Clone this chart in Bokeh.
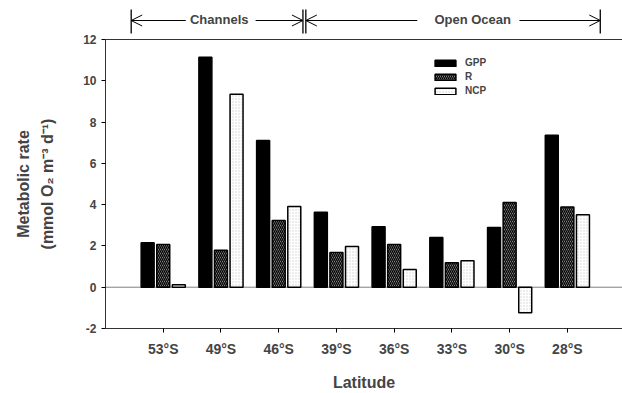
import numpy as np
from bokeh.plotting import figure
from bokeh.layouts import column
from bokeh.models import (ColumnDataSource, Range1d, FixedTicker, Span, LinearAxis,
                          Arrow, OpenHead, Label, Legend, LegendItem)
from bokeh.transform import dodge
from bokeh.embed import file_html
from bokeh.resources import INLINE

# ---- data ----
latitudes = ["53°S", "49°S", "46°S", "39°S", "36°S", "33°S", "30°S", "28°S"]
positions = [1, 2, 3, 4, 5, 6, 7, 8]
gpp = [2.15, 11.14, 7.11, 3.63, 2.93, 2.41, 2.89, 7.36]
resp = [2.07, 1.79, 3.23, 1.68, 2.07, 1.18, 4.10, 3.88]
ncp = [0.12, 9.35, 3.91, 1.97, 0.86, 1.28, -1.24, 3.51]
y_ticks = [-2, 0, 2, 4, 6, 8, 10, 12]
region_names = ["Channels", "Open Ocean"]

FONT = "Liberation Sans"

src = ColumnDataSource(dict(x=positions, gpp=gpp, r=resp, ncp=ncp, zero=[0] * len(positions)))

xr = Range1d(0, 8.955)
HEAD_H = 34

# ---- main plot ----
p = figure(width=622, height=393 - HEAD_H, output_backend="svg", toolbar_location=None,
           x_range=xr, y_range=Range1d(-2, 12),
           min_border_left=105, min_border_right=0, min_border_top=5, min_border_bottom=65)
p.outline_line_color = None
p.grid.grid_line_color = None

p.add_layout(Span(location=0, dimension="width", line_color="#808080", line_width=1, level="underlay"))

w = 0.225
off = 0.27
r1 = p.vbar(x=dodge("x", -off), top="gpp", bottom="zero", width=w, source=src,
            fill_color="black", line_color="black", line_width=1.5)
r2 = p.vbar(x=dodge("x", 0), top="r", bottom="zero", width=w, source=src,
            fill_color="#b4b4b4", hatch_pattern="\\", hatch_color="black",
            hatch_weight=1.4, hatch_scale=4, line_color="black", line_width=1.5)
r3 = p.vbar(x=dodge("x", off), top="ncp", bottom="zero", width=w, source=src,
            fill_color="white", hatch_pattern=".", hatch_color="#d0d0d0", hatch_scale=3,
            line_color="black", line_width=1.5)

xa = p.xaxis[0]
xa.ticker = FixedTicker(ticks=positions)
xa.major_label_overrides = {pos: lab for pos, lab in zip(positions, latitudes)}
xa.minor_tick_line_color = None
xa.major_tick_in = 0
xa.major_tick_out = 4
xa.axis_line_color = "#333333"
xa.major_label_text_font = FONT
xa.major_label_text_font_style = "bold"
xa.major_label_text_font_size = "14px"
xa.major_label_standoff = 8
xa.axis_label = "Latitude"
xa.axis_label_text_font = FONT
xa.axis_label_text_font_style = "bold"
xa.axis_label_text_font_size = "16px"
xa.axis_label_standoff = 14

ya = p.yaxis[0]
ya.ticker = FixedTicker(ticks=y_ticks)
ya.major_label_overrides = {t: str(t) for t in y_ticks}
ya.minor_tick_line_color = None
ya.major_tick_in = 0
ya.major_tick_out = 4
ya.axis_line_color = "#333333"
ya.major_label_text_font = FONT
ya.major_label_text_font_style = "bold"
ya.major_label_text_font_size = "12px"
ya.major_label_standoff = 5
ya.axis_label = "Metabolic rate\n(mmol O\u2082 m\u207b\u00b3 d\u207b\u00b9)"
ya.axis_label_text_font = FONT
ya.axis_label_text_font_style = "bold"
ya.axis_label_text_font_size = "16px"
ya.axis_label_text_line_height = 1.4
ya.axis_label_standoff = 24

top_axis = LinearAxis(ticker=FixedTicker(ticks=[]), major_label_text_font_size="0px",
                      major_tick_line_color=None, minor_tick_line_color=None,
                      axis_line_color="#333333")
p.add_layout(top_axis, "above")

legend = Legend(items=[LegendItem(label="GPP", renderers=[r1]),
                       LegendItem(label="R", renderers=[r2]),
                       LegendItem(label="NCP", renderers=[r3])],
                location=(327, 232), glyph_width=26, glyph_height=8, label_height=8,
                spacing=3, padding=0, margin=0, border_line_color=None,
                background_fill_alpha=0, label_text_font=FONT, label_text_font_style="bold",
                label_text_font_size="10px", label_standoff=7)
p.add_layout(legend)

# ---- header strip with region brackets ----
ph = figure(width=622, height=HEAD_H, output_backend="svg", toolbar_location=None,
            x_range=xr, y_range=Range1d(0, HEAD_H), x_axis_location=None, y_axis_location=None,
            min_border_left=105, min_border_right=0, min_border_top=0, min_border_bottom=0)
ph.outline_line_color = None
ph.grid.grid_line_color = None

ya_arrow = HEAD_H - 20
def bracket_line(x0, x1):
    ph.add_layout(Arrow(x_start=x0, y_start=ya_arrow, x_end=x1, y_end=ya_arrow,
                        end=OpenHead(size=11, line_color="black", line_width=1),
                        line_color="black", line_width=1))

def vbar_line(x):
    ph.add_layout(Arrow(x_start=x, y_start=HEAD_H - 33, x_end=x, y_end=HEAD_H - 9, end=None,
                        line_color="black", line_width=1.3))

bracket_line(1.39, 0.445)
bracket_line(2.6, 3.42)
bracket_line(5.4, 3.47)
bracket_line(7.17, 8.57)
for xv in [0.445, 3.42, 3.47, 8.57]:
    vbar_line(xv)
ph.add_layout(Label(x=1.97, y=ya_arrow + 1, text=region_names[0], text_align="center",
                    text_baseline="middle", text_font=FONT, text_font_style="bold",
                    text_font_size="13px"))
ph.add_layout(Label(x=6.36, y=ya_arrow + 1, text=region_names[1], text_align="center",
                    text_baseline="middle", text_font=FONT, text_font_style="bold",
                    text_font_size="13px"))

layout = column(ph, p, spacing=0)
open("out.html", "w").write(file_html(layout, INLINE))
